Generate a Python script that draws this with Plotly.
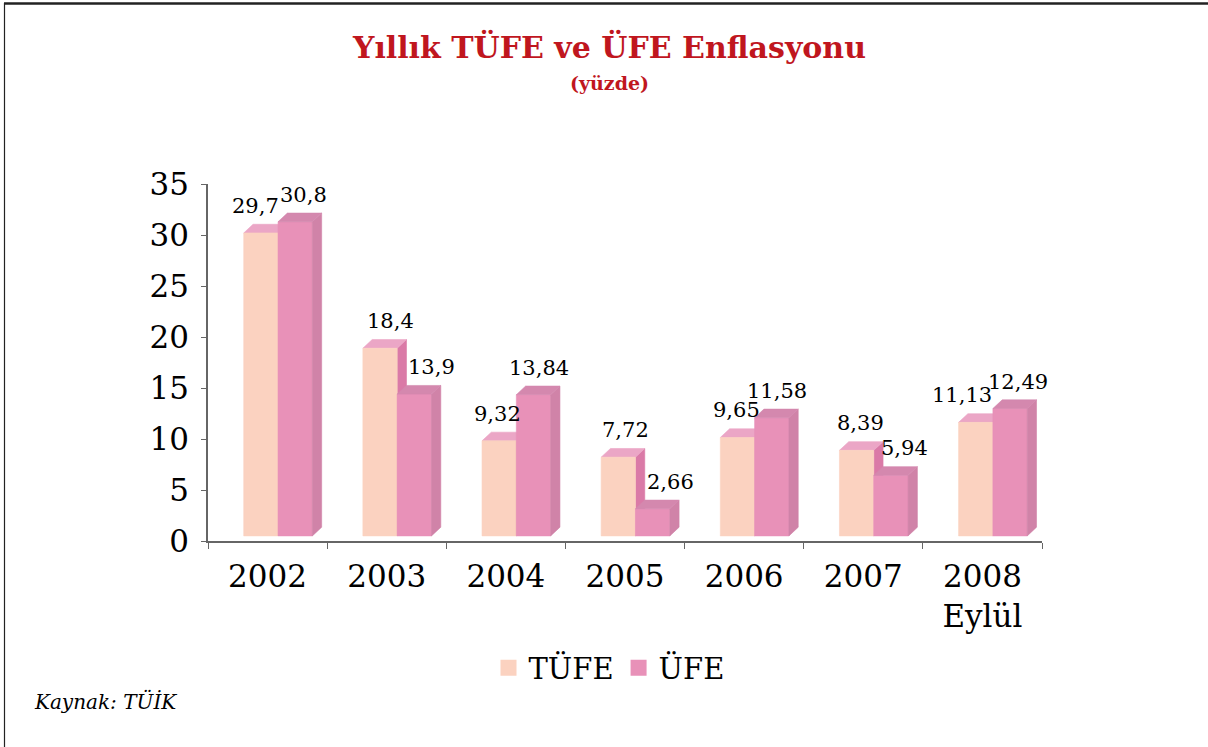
import plotly.graph_objects as go

# ---------------- data ----------------
years = ["2002", "2003", "2004", "2005", "2006", "2007", "2008<br>Eylül"]
tufe = [29.7, 18.4, 9.32, 7.72, 9.65, 8.39, 11.13]
ufe = [30.8, 13.9, 13.84, 2.66, 11.58, 5.94, 12.49]
series_names = ["TÜFE", "ÜFE"]

# label nudges (px) to mimic the original layout of the data labels
tufe_label_dx = [-5, 10, -2, 7, -1, 4, -14]
ufe_label_dx = [8, 17, 5, 18, 5, 14, 8]

# ---------------- style ----------------
W, H = 1208, 747
ML, MR, MT, MB = 208, 166, 184, 206
PW, PH = W - ML - MR, H - MT - MB

FLOOR = 0.5     # 3D floor offset (data units)
DX = 0.078      # depth in x (category units)
DY = 0.85       # depth in y (data units)
LEFT = -0.2     # left edge of first bar relative to category centre
BW = 0.288      # bar width

C_TUFE_FRONT = "#FBD2C0"
C_TUFE_TOP = "#EBA6C6"
C_TUFE_SIDE = "#DA7AA7"
C_UFE_FRONT = "#E891B8"
C_UFE_TOP = "#D488AE"
C_UFE_SIDE = "#D083A8"
SERIF = "DejaVu Serif"


def xp(px):
    return (px - ML) / PW


def yp(py):
    return (H - MB - py) / PH


def front_poly(x0s, vals):
    xs, ys = [], []
    for x0, v in zip(x0s, vals):
        t = v + FLOOR
        xs += [x0, x0 + BW, x0 + BW, x0, x0, None]
        ys += [FLOOR, FLOOR, t, t, FLOOR, None]
    return xs, ys


def side_poly(x0s, vals):
    xs, ys = [], []
    for x0, v in zip(x0s, vals):
        x1 = x0 + BW
        t = v + FLOOR
        xs += [x1, x1 + DX, x1 + DX, x1, x1, None]
        ys += [FLOOR, FLOOR + DY, t + DY, t, FLOOR, None]
    return xs, ys


def top_poly(x0s, vals):
    xs, ys = [], []
    for x0, v in zip(x0s, vals):
        t = v + FLOOR
        xs += [x0, x0 + BW, x0 + BW + DX, x0 + DX, x0, None]
        ys += [t, t, t + DY, t + DY, t, None]
    return xs, ys


cats = list(range(len(years)))
tufe_x0 = [c + LEFT for c in cats]
ufe_x0 = [c + LEFT + BW for c in cats]

fig = go.Figure()


def add_poly(xy, color):
    xs, ys = xy
    fig.add_trace(go.Scatter(
        x=xs, y=ys, mode="lines", fill="toself", fillcolor=color,
        line=dict(width=0.6, color=color), hoverinfo="skip",
        showlegend=False,
    ))


# draw order gives the 3D look
add_poly(side_poly(tufe_x0, tufe), C_TUFE_SIDE)
add_poly(top_poly(tufe_x0, tufe), C_TUFE_TOP)
add_poly(front_poly(tufe_x0, tufe), C_TUFE_FRONT)
add_poly(front_poly(ufe_x0, ufe), C_UFE_FRONT)
add_poly(side_poly(ufe_x0, ufe), C_UFE_SIDE)
add_poly(top_poly(ufe_x0, ufe), C_UFE_TOP)

# legend entries (on the label axis)
for name, col in zip(series_names, [C_TUFE_FRONT, C_UFE_FRONT]):
    fig.add_trace(go.Scatter(
        x=[None], y=[None], mode="markers", name=name, xaxis="x2",
        marker=dict(symbol="square", size=20, color=col),
    ))

annotations = []
# data labels
for x0s, vals, dxs in [(tufe_x0, tufe, tufe_label_dx), (ufe_x0, ufe, ufe_label_dx)]:
    for x0, v, d in zip(x0s, vals, dxs):
        annotations.append(dict(
            x=x0 + BW / 2, y=v + FLOOR, xref="x", yref="y",
            text=f"{v:g}".replace(".", ","), showarrow=False,
            xanchor="center", yanchor="middle", xshift=d, yshift=27,
            font=dict(family=SERIF, size=21, color="#000000"),
        ))

# title and subtitle
annotations.append(dict(
    x=xp(609), y=yp(47), xref="paper", yref="paper",
    text="<b>Yıllık TÜFE ve ÜFE Enflasyonu</b>", showarrow=False,
    xanchor="center", yanchor="middle",
    font=dict(family=SERIF, size=30, color="#C0161E"),
))
annotations.append(dict(
    x=xp(609), y=yp(83), xref="paper", yref="paper",
    text="<b>(yüzde)</b>", showarrow=False,
    xanchor="center", yanchor="middle",
    font=dict(family=SERIF, size=19, color="#C0161E"),
))
# source note
annotations.append(dict(
    x=xp(32), y=yp(701), xref="paper", yref="paper",
    text="<i>Kaynak: TÜİK</i>", showarrow=False,
    xanchor="left", yanchor="middle",
    font=dict(family=SERIF, size=20, color="#000000"),
))

shapes = [
    # top frame line
    dict(type="line", xref="paper", yref="paper",
         x0=xp(4), x1=xp(W + 2), y0=yp(3.5), y1=yp(3.5),
         line=dict(color="#222222", width=2.5)),
    # left frame line
    dict(type="line", xref="paper", yref="paper",
         x0=xp(4.5), x1=xp(4.5), y0=yp(3), y1=yp(H + 2),
         line=dict(color="#222222", width=1.2)),
]

fig.update_layout(
    width=W, height=H,
    margin=dict(l=ML, r=MR, t=MT, b=MB, pad=0),
    paper_bgcolor="white", plot_bgcolor="white",
    showlegend=True,
    legend=dict(
        orientation="h", x=xp(609), y=yp(668), xanchor="center", yanchor="middle",
        font=dict(family=SERIF, size=29, color="#000000"),
        itemsizing="trace", bgcolor="rgba(0,0,0,0)", tracegroupgap=0,
    ),
    xaxis=dict(
        range=[-0.5, len(years) - 0.5],
        tickvals=[c - 0.5 for c in range(len(years) + 1)],
        showticklabels=False, ticks="outside", ticklen=6, tickcolor="#666666",
        showline=True, linecolor="#666666", linewidth=1.5,
        showgrid=False, zeroline=False, fixedrange=True,
    ),
    xaxis2=dict(
        overlaying="x", anchor="y", side="bottom",
        range=[-0.5, len(years) - 0.5],
        tickvals=cats, ticktext=years, ticks="",
        showline=False, showgrid=False, zeroline=False,
        tickfont=dict(family=SERIF, size=31, color="#000000"),
        ticklabelstandoff=14, fixedrange=True,
    ),
    yaxis=dict(
        range=[0, 35], tickvals=list(range(0, 36, 5)),
        ticks="outside", ticklen=5, tickcolor="#666666",
        showline=True, linecolor="#666666", linewidth=1.5,
        showgrid=False, zeroline=False, fixedrange=True,
        tickfont=dict(family=SERIF, size=31, color="#000000"),
        ticklabelstandoff=6,
    ),
    annotations=annotations,
    shapes=shapes,
)

fig.write_html(
    "out.html",
    config={"displayModeBar": False},
    post_script="document.body.style.margin='0';document.body.style.overflow='hidden';",
)
